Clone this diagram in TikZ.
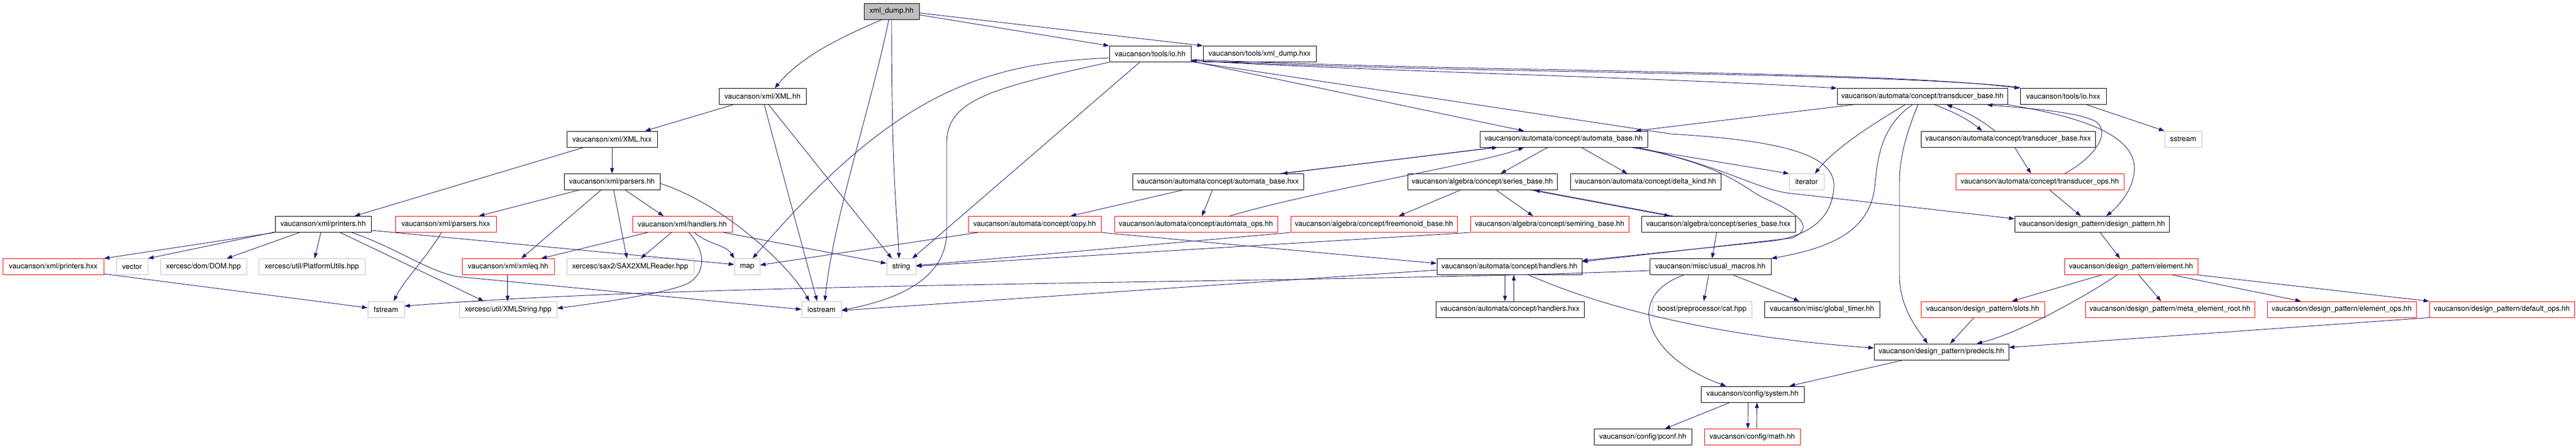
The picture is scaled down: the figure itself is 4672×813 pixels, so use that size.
\documentclass[tikz,border=0pt]{standalone}
\usepackage{fontspec}
\setmainfont{TeX Gyre Heros}
\usetikzlibrary{arrows.meta}
\definecolor{edgec}{HTML}{191970}
\definecolor{grayb}{HTML}{BFBFBF}
\tikzset{
  nd/.style={draw=black, line width=0.9pt, rectangle, inner sep=0pt, minimum height=29pt, font=\fontsize{13.3}{16}\selectfont, text=black},
  ndgray/.style={nd, draw=grayb},
  ndred/.style={nd, draw=red},
  ndroot/.style={nd, fill=grayb},
  ed/.style={draw=edgec, line width=0.9pt, -{Triangle[length=10pt,width=7pt]}}
}
\newcommand\mknode[6]{\node[#2, minimum width={(#4)-(#3)}] (#1) at ({((#3)+(#4))/2},#5) {#6};}
\begin{document}
\begin{tikzpicture}[x=1pt,y=-1pt]
\useasboundingbox (0,0) rectangle (4672,813);
% row 0
\mknode{dump}{ndroot}{1567}{1667}{20.5}{xml\_dump.hh}
% row 1
\mknode{ioh}{nd}{2012}{2160}{98}{vaucanson/tools/io.hh}
\mknode{dumphxx}{nd}{2182}{2387}{98}{vaucanson/tools/xml\_dump.hxx}
% row 2
\mknode{xmlhh}{nd}{1304}{1462}{175}{vaucanson/xml/XML.hh}
\mknode{tbhh}{nd}{3332}{3641}{175}{vaucanson/automata/concept/transducer\_base.hh}
\mknode{iohxx}{nd}{3664}{3820}{175}{vaucanson/tools/io.hxx}
% row 3
\mknode{xmlhxx}{nd}{1028}{1192}{252.5}{vaucanson/xml/XML.hxx}
\mknode{abhh}{nd}{2684}{2988}{252.5}{vaucanson/automata/concept/automata\_base.hh}
\mknode{tbhxx}{nd}{3484}{3800}{252.5}{vaucanson/automata/concept/transducer\_base.hxx}
\mknode{sstream}{ndgray}{3926}{3993}{252.5}{sstream}
% row 4
\mknode{parsershh}{nd}{1023}{1197}{330}{vaucanson/xml/parsers.hh}
\mknode{abhxx}{nd}{2054}{2364}{330}{vaucanson/automata/concept/automata\_base.hxx}
\mknode{sbhh}{nd}{2553}{2824}{330}{vaucanson/algebra/concept/series\_base.hh}
\mknode{delta}{nd}{2848}{3121}{330}{vaucanson/automata/concept/delta\_kind.hh}
\mknode{iterator}{ndgray}{3245}{3308}{330}{iterator}
\mknode{tops}{ndred}{3547}{3852}{330}{vaucanson/automata/concept/transducer\_ops.hh}
% row 5
\mknode{printershh}{nd}{499}{673}{407}{vaucanson/xml/printers.hh}
\mknode{parsershxx}{ndred}{717}{900}{407}{vaucanson/xml/parsers.hxx}
\mknode{xhandlers}{ndred}{1147}{1328}{407}{vaucanson/xml/handlers.hh}
\mknode{copy}{ndred}{1756}{1997}{407}{vaucanson/automata/concept/copy.hh}
\mknode{aops}{ndred}{2021}{2317}{407}{vaucanson/automata/concept/automata\_ops.hh}
\mknode{freemon}{ndred}{2341}{2643}{407}{vaucanson/algebra/concept/freemonoid\_base.hh}
\mknode{semiring}{ndred}{2667}{2954}{407}{vaucanson/algebra/concept/semiring\_base.hh}
\mknode{sbhxx}{nd}{2977}{3256}{407}{vaucanson/algebra/concept/series\_base.hxx}
\mknode{dp}{nd}{3654}{3934}{407}{vaucanson/design\_pattern/design\_pattern.hh}
% row 6
\mknode{printershxx}{ndred}{5}{188}{484}{vaucanson/xml/printers.hxx}
\mknode{vector}{ndgray}{211}{268}{484}{vector}
\mknode{dom}{ndgray}{291}{447}{484}{xercesc/dom/DOM.hpp}
\mknode{platform}{ndgray}{469}{662}{484}{xercesc/util/PlatformUtils.hpp}
\mknode{xmleq}{ndred}{838}{1005}{484}{vaucanson/xml/xmleq.hh}
\mknode{sax}{ndgray}{1028}{1258}{484}{xercesc/sax2/SAX2XMLReader.hpp}
\mknode{map}{ndgray}{1332}{1378}{484}{map}
\mknode{string}{ndgray}{1608}{1661}{484}{string}
\mknode{chandlers}{nd}{2606}{2869}{484}{vaucanson/automata/concept/handlers.hh}
\mknode{macros}{nd}{2992}{3212}{484}{vaucanson/misc/usual\_macros.hh}
\mknode{element}{ndred}{3744}{3986}{484}{vaucanson/design\_pattern/element.hh}
% row 7
\mknode{fstream}{ndgray}{667}{733}{561.5}{fstream}
\mknode{xmlstring}{ndgray}{833}{1010}{561.5}{xercesc/util/XMLString.hpp}
\mknode{iostream}{ndgray}{1454}{1526}{561.5}{iostream}
\mknode{chhxx}{nd}{2604}{2873}{561.5}{vaucanson/automata/concept/handlers.hxx}
\mknode{cat}{ndgray}{2997}{3177}{561.5}{boost/preprocessor/cat.hpp}
\mknode{timer}{nd}{3200}{3409}{561.5}{vaucanson/misc/global\_timer.hh}
\mknode{slots}{ndred}{3484}{3708}{561.5}{vaucanson/design\_pattern/slots.hh}
\mknode{meta}{ndred}{3782}{4089}{561.5}{vaucanson/design\_pattern/meta\_element\_root.hh}
\mknode{eops}{ndred}{4112}{4382}{561.5}{vaucanson/design\_pattern/element\_ops.hh}
\mknode{dops}{ndred}{4406}{4669}{561.5}{vaucanson/design\_pattern/default\_ops.hh}
% row 8-10
\mknode{predecls}{nd}{3399}{3643}{638.5}{vaucanson/design\_pattern/predecls.hh}
\mknode{system}{nd}{3085}{3272}{715.5}{vaucanson/config/system.hh}
\mknode{pconf}{nd}{2891}{3068}{793}{vaucanson/config/pconf.hh}
\mknode{math}{ndred}{3091}{3265}{793}{vaucanson/config/math.hh}

% ---------- edges ----------
% xml_dump.hh
\draw[ed] ([xshift=-17pt]dump.south) .. controls +(-70,30) and +(50,-60) .. ([xshift=22pt]xmlhh.north);
\draw[ed] ([xshift=-5pt]dump.south) .. controls +(-30,150) and +(15,-150) .. ([xshift=6pt]iostream.north);
\draw[ed] (dump.south) .. controls +(0,300) and +(-3,-80) .. ([xshift=-4pt]string.north);
\draw[ed] ([yshift=-6.5pt]dump.east) -- (ioh.north west);
\draw[ed] ([yshift=-3pt]dump.east) -- (dumphxx.north west);
% XML.hh
\draw[ed] ([xshift=-53pt]xmlhh.south) -- ([xshift=60pt]xmlhxx.north);
\draw[ed] ([xshift=3pt]xmlhh.south) -- ([xshift=-8pt]iostream.north);
\draw[ed] ([xshift=11pt]xmlhh.south) -- ([xshift=-17pt]string.north);
% XML.hxx
\draw[ed] (xmlhxx.south) -- (parsershh.north);
\draw[ed] ([xshift=-51pt]xmlhxx.south) -- ([xshift=57pt]printershh.north);
% parsers.hh
\draw[ed] ([xshift=-60pt]parsershh.south) -- ([xshift=60pt]parsershxx.north);
\draw[ed] ([xshift=-20pt]parsershh.south) -- ([xshift=24pt]xmleq.north);
\draw[ed] ([xshift=3pt]parsershh.south) -- ([xshift=-6pt]sax.north);
\draw[ed] ([xshift=24pt]parsershh.south) -- ([xshift=-34pt]xhandlers.north);
\draw[ed] ([yshift=-3pt]parsershh.east) .. controls +(110,35) and +(-40,-70) .. ([xshift=-22pt]iostream.north);
% printers.hh
\draw[ed] (printershh.south west) -- (printershxx.north east);
\draw[ed] ([yshift=1pt]printershh.south west) -- (vector.north east);
\draw[ed] ([xshift=-43pt]printershh.south) -- ([xshift=42pt]dom.north);
\draw[ed] ([xshift=-4pt]printershh.south) -- ([xshift=5pt]platform.north);
\draw[ed] ([xshift=31pt]printershh.south) -- ([xshift=-44pt]xmlstring.north);
\draw[ed] ([xshift=52pt]printershh.south) .. controls (720,450) and (775,492) .. (830,502) -- (iostream.west);
\draw[ed] ([yshift=-11pt]printershh.east) -- ([yshift=4pt]map.west);
\draw[ed] ([yshift=-13pt]printershxx.east) -- ([yshift=3pt]fstream.west);
\draw[ed] ([xshift=-8pt]parsershxx.south) .. controls +(-30,50) and +(20,-40) .. ([xshift=14pt]fstream.north);
% xml/handlers.hh
\draw[ed] ([xshift=-63pt]xhandlers.south) -- ([xshift=60pt]xmleq.north);
\draw[ed] ([xshift=-20pt]xhandlers.south) -- ([xshift=19pt]sax.north);
\draw[ed] ([xshift=12pt]xhandlers.south) .. controls (1275,450) and (1285,490) .. (1250,513) .. controls (1220,530) and (1100,548) .. ([yshift=2pt]xmlstring.east);
\draw[ed] ([xshift=22pt]xhandlers.south) .. controls +(25,22) and +(-15,-25) .. (map.north west);
\draw[ed] ([xshift=75pt]xhandlers.south) -- ([yshift=6pt]string.west);
\draw[ed] ([xshift=-1pt]xmleq.south) -- ([xshift=-1pt]xmlstring.north);
% tools/io.hh
\draw[ed] ([yshift=-7pt]ioh.west) .. controls (1780,115) and (1620,170) .. ([xshift=10pt]map.north);
\draw[ed] (ioh.south west) .. controls (1800,160) and (1717,180) .. (1717,260) -- (1717,420) .. controls (1717,510) and (1620,545) .. ([yshift=-1.5pt]iostream.east);
\draw[ed] ([xshift=-19pt]ioh.south) -- ([xshift=20pt]string.north);
\draw[ed] ([yshift=-10pt]ioh.east) .. controls (2700,132) and (3400,127) .. (iohxx.north west);
\draw[ed] ([yshift=1.5pt]iohxx.north west) .. controls (3400,130) and (2700,135) .. ([yshift=-12pt]ioh.east);
\draw[ed] ([yshift=-12pt]ioh.east) .. controls (2500,130) and (3000,140) .. (tbhh.north west);
\draw[ed] ([yshift=-13pt]ioh.east) -- ([xshift=-72pt]abhh.north);
\draw[ed] ([yshift=-14pt]ioh.east) -- (3030,243) .. controls (3230,255) and (3330,280) .. (3326,340) .. controls (3322,410) and (3260,430) .. (3218,437) -- ([yshift=11pt]chandlers.east);
% automata_base.hh / hxx
\draw[ed] ([xshift=-124pt]abhh.south) -- ([xshift=116pt]abhxx.north);
\draw[ed] ([xshift=112pt]abhxx.north) -- ([xshift=-120pt]abhh.south);
\draw[ed] ([xshift=61pt]aops.north) .. controls +(150,-45) and +(-80,30) .. ([xshift=-72pt]abhh.south);
\draw[ed] ([xshift=-10pt]abhxx.south) -- ([xshift=11pt]aops.north);
\draw[ed] ([xshift=-64pt]abhxx.south) -- ([xshift=65pt]copy.north);
\draw[ed] ([xshift=-103pt]copy.south) -- ([yshift=3pt]map.east);
\draw[ed] (copy.south east) -- ([yshift=6pt]chandlers.west);
\draw[ed] (freemon.south west) -- ([yshift=2pt]string.east);
\draw[ed] (semiring.south west) -- ([yshift=1pt]string.east);
\draw[ed] ([xshift=-29pt]abhh.south) -- ([xshift=33pt]sbhh.north);
\draw[ed] ([xshift=32pt]abhh.south) -- ([xshift=-33pt]delta.north);
\draw[ed] ([xshift=122pt]abhh.south) -- (iterator.north west);
\draw[ed] ([xshift=127pt]abhh.south) .. controls (3130,300) and (3160,340) .. (3200,360) .. controls (3270,390) and (3290,415) .. (3250,432) -- ([yshift=9pt]chandlers.east);
\draw[ed] ([xshift=134pt]abhh.south) .. controls (3120,300) and (3180,340) .. (3240,350) -- ([yshift=10pt]dp.west);
% series_base
\draw[ed] ([xshift=-40pt]sbhh.south) -- ([xshift=45pt]freemon.north);
\draw[ed] ([xshift=25pt]sbhh.south) -- ([xshift=-30pt]semiring.north);
\draw[ed] ([xshift=88pt]sbhh.south) -- ([xshift=-88pt]sbhxx.north);
\draw[ed] ([xshift=-82pt]sbhxx.north) -- ([xshift=94pt]sbhh.south);
\draw[ed] ([xshift=-3pt]sbhxx.south) -- ([xshift=3pt]macros.north);
% concept/handlers
\draw[ed] ([xshift=-8pt]chandlers.south) -- ([xshift=-9pt]chhxx.north);
\draw[ed] ([xshift=7pt]chhxx.north) -- ([xshift=8pt]chandlers.south);
\draw[ed] ([yshift=-6pt]chandlers.west) -- ([yshift=-2pt]iostream.east);
\draw[ed] ([xshift=35pt]chandlers.south) .. controls (2900,555) and (3100,610) .. ([yshift=7pt]predecls.west);
% usual_macros
\draw[ed] ([yshift=-7pt]macros.west) .. controls (2400,515) and (1300,510) .. ([yshift=6pt]fstream.east);
\draw[ed] ([xshift=-3pt]macros.south) -- ([xshift=3pt]cat.north);
\draw[ed] ([xshift=41pt]macros.south) -- ([xshift=-41pt]timer.north);
\draw[ed] ([xshift=-48pt]macros.south) .. controls (2940,540) and (2990,650) .. ([xshift=-48pt]system.north);
% config
\draw[ed] ([xshift=-69pt]predecls.south) -- ([xshift=67pt]system.north);
\draw[ed] ([xshift=-41pt]system.south) -- ([xshift=40pt]pconf.north);
\draw[ed] ([xshift=-8pt]system.south) -- ([xshift=-8pt]math.north);
\draw[ed] ([xshift=8pt]math.north) -- ([xshift=8pt]system.south);
% transducer_base.hh
\draw[ed] ([xshift=-125pt]tbhh.south) -- ([xshift=130pt]abhh.north);
\draw[ed] ([xshift=-31pt]tbhh.south) .. controls +(-50,30) and +(40,-50) .. ([xshift=15pt]iterator.north);
\draw[ed] ([xshift=-18pt]tbhh.south) .. controls (3410,230) and (3405,290) .. (3400,340) .. controls (3390,420) and (3320,450) .. ([yshift=15pt]macros.east);
\draw[ed] ([xshift=-8pt]tbhh.south) .. controls (3450,260) and (3445,300) .. (3445,330) -- (3445,500) .. controls (3445,560) and (3480,600) .. ([xshift=-25pt]predecls.north);
\draw[ed] ([xshift=22pt]tbhh.south) .. controls +(40,15) and +(-25,-20) .. ([xshift=-47pt]tbhxx.north);
\draw[ed] ([xshift=-24pt]tbhxx.north) .. controls +(-25,-20) and +(40,15) .. ([xshift=44pt]tbhh.south);
\draw[ed] (tbhh.south east) .. controls (3760,210) and (3875,240) .. (3871,310) .. controls (3868,350) and (3835,380) .. ([xshift=26pt]dp.north);
\draw[ed] ([xshift=45pt]tops.north) .. controls (3800,285) and (3830,240) .. (3800,220) .. controls (3760,200) and (3650,195) .. ([xshift=117pt]tbhh.south);
\draw[ed] ([xshift=12pt]tbhxx.south) -- ([xshift=-16pt]tops.north);
\draw[ed] ([xshift=18pt]tops.south) -- ([xshift=-20pt]dp.north);
\draw[ed] ([xshift=42pt]iohxx.south) -- (sstream.north west);
% design_pattern
\draw[ed] ([xshift=15pt]dp.south) -- ([xshift=-20pt]element.north);
\draw[ed] ([xshift=-53pt]element.south) -- ([xshift=53pt]slots.north);
\draw[ed] ([xshift=-25pt]element.south) .. controls +(-60,40) and +(80,-20) .. ([xshift=64pt]predecls.north);
\draw[ed] ([xshift=14pt]element.south) -- ([xshift=-16pt]meta.north);
\draw[ed] ([xshift=75pt]element.south) -- ([xshift=-74pt]eops.north);
\draw[ed] (element.south east) -- (dops.north west);
\draw[ed] (dops.south west) -- ([yshift=8pt]predecls.east);
\draw[ed] ([xshift=-16pt]slots.south) -- ([xshift=16pt]predecls.north);
\end{tikzpicture}
\end{document}
